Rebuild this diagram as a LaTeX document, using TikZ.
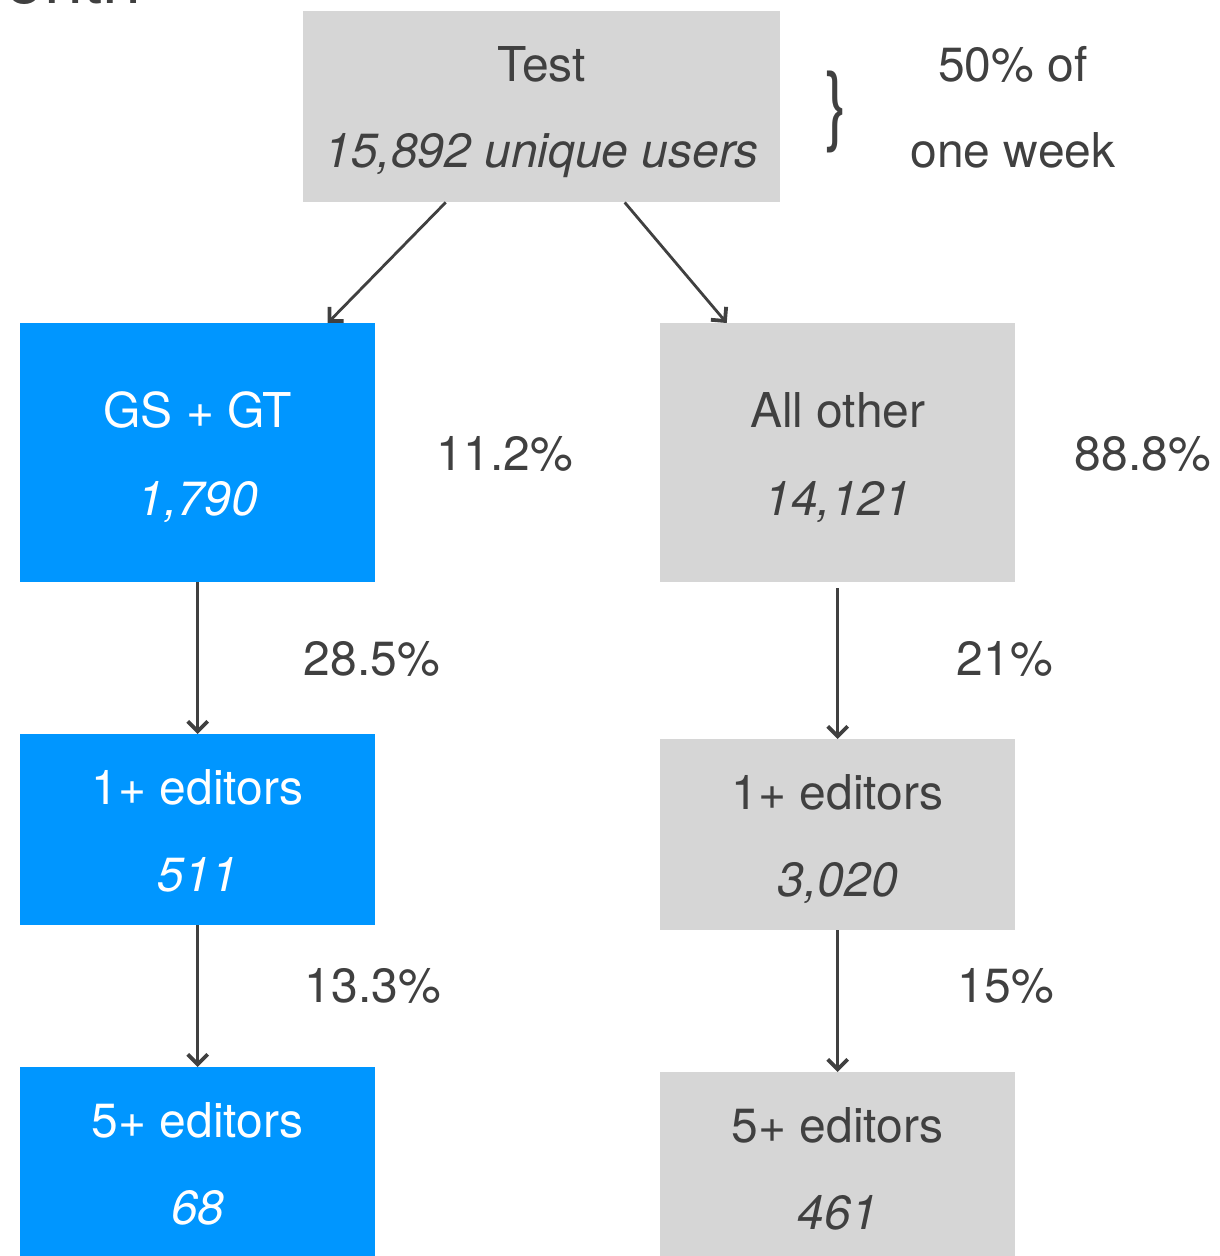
\documentclass[tikz,border=0pt]{standalone}
\usepackage{fontspec}
\setmainfont{TeX Gyre Heros}
\usepackage{graphicx}
\usetikzlibrary{arrows.meta}
\definecolor{myblue}{RGB}{0,150,255}
\definecolor{mygrey}{RGB}{214,214,214}
\definecolor{mytext}{RGB}{64,64,64}

\begin{document}
\begin{tikzpicture}[x=1pt, y=-1pt,
    box/.style={rectangle, minimum width=355pt, minimum height=191pt, inner sep=0pt, anchor=north west},
    bluebox/.style={box, fill=myblue},
    greybox/.style={box, fill=mygrey},
    txt/.style={anchor=base, inner sep=0pt, font=\fontsize{48}{58}\selectfont, text=mytext},
    arr/.style={draw=mytext, line width=2.8pt, -{Straight Barb[length=10pt,width=20pt,line width=3.8pt]}}]
    \useasboundingbox (0,0) rectangle (1219,1256);
    % cut-off title
    \node[anchor=base east, inner sep=0pt, font=\fontsize{70}{70}\selectfont, text=mytext] (title) at (142,3) {onth};
    % top box
    \node[greybox, minimum width=477pt] (test) at (303,11) {};
    \node[txt] (test-name) at ([yshift=25.5pt]test.center) {Test};
    \node[txt] (test-num) at ([yshift=-60.5pt]test.center) {\itshape 15,892 unique users};
    \node[anchor=center, inner sep=0pt, text=mytext] (brace) at (836,112) {\resizebox*{22pt}{82pt}{\fontsize{48}{58}\selectfont\}}};
    \node[txt] (week-a) at (1013,81) {50\% of};
    \node[txt] (week-b) at (1013,167) {one week};
    % left column
    \node[bluebox, minimum height=259pt] (gs) at (20,323) {};
    \node[txt, text=white] (gs-name) at ([yshift=25.5pt]gs.center) {GS + GT};
    \node[txt, text=white] (gs-num) at ([yshift=-62.5pt]gs.center) {\itshape 1,790};
    \node[bluebox] (gs1) at (20,734) {};
    \node[txt, text=white] (gs1-name) at ([yshift=25pt]gs1.center) {1+ editors};
    \node[txt, text=white] (gs1-num) at ([yshift=-62pt]gs1.center) {\itshape 511};
    \node[bluebox] (gs5) at (20,1067) {};
    \node[txt, text=white] (gs5-name) at ([yshift=25pt]gs5.center) {5+ editors};
    \node[txt, text=white] (gs5-num) at ([yshift=-62pt]gs5.center) {\itshape 68};
    % right column
    \node[greybox, minimum height=259pt] (oth) at (660,323) {};
    \node[txt] (oth-name) at ([yshift=25.5pt]oth.center) {All other};
    \node[txt] (oth-num) at ([yshift=-62.5pt]oth.center) {\itshape 14,121};
    \node[greybox] (oth1) at (660,739) {};
    \node[txt] (oth1-name) at ([yshift=25pt]oth1.center) {1+ editors};
    \node[txt] (oth1-num) at ([yshift=-62pt]oth1.center) {\itshape 3,020};
    \node[greybox] (oth5) at (660,1072) {};
    \node[txt] (oth5-name) at ([yshift=25pt]oth5.center) {5+ editors};
    \node[txt] (oth5-num) at ([yshift=-62pt]oth5.center) {\itshape 461};
    % shares
    \node[txt] (p-gs) at (505,470) {11.2\%};
    \node[txt] (p-oth) at (1143,470) {88.8\%};
    \node[txt] (p-gs1) at (372,675) {28.5\%};
    \node[txt] (p-oth1) at (1005,675) {21\%};
    \node[txt] (p-gs5) at (373,1002) {13.3\%};
    \node[txt] (p-oth5) at (1006,1002) {15\%};
    % arrows
    \draw[arr] ([xshift=-96pt]test.south) -- ([xshift=130pt]gs.north);
    \draw[arr] ([xshift=83pt]test.south) -- ([xshift=-111pt]oth.north);
    \draw[arr] (gs.south) -- (gs1.north);
    \draw[arr] (gs1.south) -- (gs5.north);
    \draw[arr] ([yshift=-6pt]oth.south) -- (oth1.north);
    \draw[arr] (oth1.south) -- (oth5.north);
\end{tikzpicture}
\end{document}
